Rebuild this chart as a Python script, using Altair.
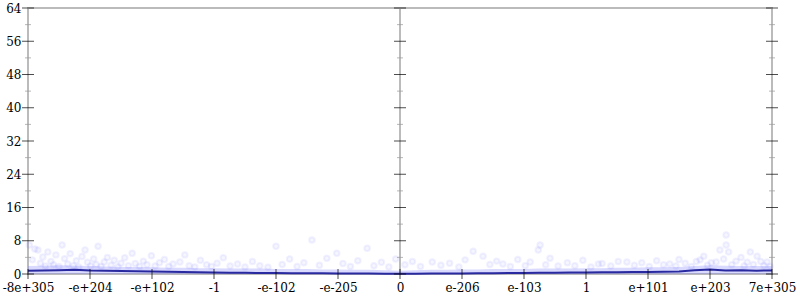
import altair as alt
import pandas as pd

# x positions are in "tick units": -6 .. 6, one unit per labelled tick
tick_pos = [-6, -5, -4, -3, -2, -1, 0, 1, 2, 3, 4, 5, 6]
tick_labels = ["-8e+305", "-e+204", "-e+102", "-1", "-e-102", "-e-205", "0",
               "e-206", "e-103", "1", "e+101", "e+203", "7e+305"]

y_major = [0, 8, 16, 24, 32, 40, 48, 56, 64]
y_minor = [4, 12, 20, 28, 36, 44, 52, 60]
axis_x = [-6, 0, 6]

line_x = [-6, -5.75, -5.5, -5.25, -5, -4.75, -4.5, -4.25, -4, -3.75, -3.5, -3.25,
          -3, -2.75, -2.5, -2.25, -2, -1.75, -1.5, -1.25, -1, -0.75, -0.5, -0.25,
          0, 0.25, 0.5, 0.75, 1, 1.25, 1.5, 1.75, 2, 2.25, 2.5, 2.75, 3, 3.25,
          3.5, 3.75, 4, 4.25, 4.5, 4.75, 5, 5.25, 5.5, 5.75, 6]
line_y = [0.8, 0.85, 0.9, 1.0, 0.85, 0.8, 0.7, 0.65, 0.6, 0.55, 0.5, 0.4,
          0.35, 0.3, 0.28, 0.25, 0.22, 0.2, 0.2, 0.18, 0.15, 0.12, 0.1, 0.08,
          0.05, 0.08, 0.1, 0.12, 0.15, 0.18, 0.2, 0.22, 0.25, 0.28, 0.3, 0.35,
          0.38, 0.4, 0.45, 0.5, 0.5, 0.55, 0.6, 0.9, 1.1, 0.85, 0.9, 0.8, 0.85]
band_hi = [1.9, 2.0, 2.1, 2.0, 1.9, 1.8, 1.7, 1.7, 1.6, 1.5, 1.5, 1.4,
           1.4, 1.3, 1.3, 1.3, 1.2, 1.2, 1.2, 1.1, 1.1, 1.0, 1.0, 0.9,
           0.8, 0.9, 1.0, 1.0, 1.1, 1.1, 1.2, 1.2, 1.2, 1.3, 1.3, 1.3,
           1.4, 1.4, 1.5, 1.5, 1.6, 1.6, 1.7, 1.9, 2.1, 2.0, 1.9, 1.9, 1.9]

points = [
    (-5.98, 7.0), (-5.93, 3.4), (-5.89, 6.0), (-5.84, 5.8), (-5.8, 2.6), (-5.76, 4.1),
    (-5.72, 1.9), (-5.68, 5.3), (-5.63, 3.0), (-5.59, 2.2), (-5.55, 4.6), (-5.5, 1.8),
    (-5.45, 7.0), (-5.41, 3.7), (-5.36, 2.4), (-5.32, 4.9), (-5.27, 2.0), (-5.22, 3.2),
    (-5.18, 1.7), (-5.13, 4.2), (-5.08, 5.8), (-5.04, 2.8), (-4.99, 1.9), (-4.94, 3.6),
    (-4.9, 2.3), (-4.87, 6.7), (-4.82, 1.8), (-4.77, 2.9), (-4.72, 4.0), (-4.66, 2.1),
    (-4.61, 3.3), (-4.55, 1.7), (-4.5, 2.6), (-4.44, 3.9), (-4.38, 2.0), (-4.32, 5.0),
    (-4.27, 2.5), (-4.2, 1.8), (-4.14, 3.1), (-4.08, 2.2), (-4.01, 4.4), (-3.95, 1.9),
    (-3.88, 2.7), (-3.8, 3.5), (-3.73, 1.8), (-3.66, 2.4), (-3.55, 2.9), (-3.47, 4.6),
    (-3.4, 2.0), (-3.31, 1.7), (-3.22, 3.3), (-3.12, 2.2), (-3.04, 1.8), (-2.95, 2.6),
    (-2.85, 3.9), (-2.74, 1.9), (-2.62, 2.4), (-2.5, 1.7), (-2.38, 3.0), (-2.26, 2.0),
    (-2.13, 1.6), (-2.0, 6.7), (-1.9, 2.3), (-1.78, 3.6), (-1.66, 1.8), (-1.55, 2.7),
    (-1.42, 8.2), (-1.3, 2.1), (-1.18, 3.8), (-1.02, 5.0), (-0.92, 2.5), (-0.8, 1.8),
    (-0.68, 3.2), (-0.53, 6.2), (-0.42, 2.0), (-0.3, 2.8), (-0.18, 1.7), (-0.07, 3.6),
    (0.08, 2.2), (0.2, 3.0), (0.33, 1.8), (0.52, 2.9), (0.66, 2.1), (0.8, 2.6),
    (0.95, 1.7), (1.05, 3.4), (1.18, 5.5), (1.34, 4.3), (1.45, 2.3), (1.56, 3.1),
    (1.66, 2.4), (1.78, 1.8), (1.9, 3.5), (2.02, 2.0), (2.1, 2.9), (2.23, 5.8),
    (2.26, 7.0), (2.35, 2.2), (2.42, 3.8), (2.55, 1.9), (2.7, 2.7), (2.82, 2.0),
    (2.95, 3.3), (3.08, 1.7), (3.2, 2.4), (3.26, 2.5), (3.4, 1.9), (3.52, 3.0),
    (3.66, 2.9), (3.78, 2.1), (3.9, 2.7), (4.02, 1.8), (4.14, 3.2), (4.25, 2.2),
    (4.35, 2.4), (4.45, 1.9), (4.5, 3.5), (4.6, 2.6), (4.7, 1.8), (4.78, 3.0),
    (4.84, 3.4), (4.9, 4.3), (4.96, 2.1), (5.02, 2.7), (5.1, 2.9), (5.16, 5.8),
    (5.22, 3.6), (5.26, 9.4), (5.26, 7.0), (5.3, 5.3), (5.35, 2.2), (5.42, 3.1),
    (5.5, 4.0), (5.55, 1.9), (5.6, 2.8), (5.65, 5.3), (5.7, 2.3), (5.76, 4.3),
    (5.82, 3.0), (5.87, 2.0), (5.92, 2.9), (5.97, 1.8),
]

FONT = "DejaVu Serif"

line_df = pd.DataFrame({"x": line_x, "y": line_y, "hi": band_hi})
pts_df = pd.DataFrame(points, columns=["x", "y"])
ymaj_df = pd.DataFrame([(ax, v) for ax in axis_x for v in y_major], columns=["x", "y"])
ymin_df = pd.DataFrame([(ax, v) for ax in axis_x for v in y_minor], columns=["x", "y"])
xt_df = pd.DataFrame({"x": tick_pos})

label_arr = "[" + ",".join("'%s'" % s for s in tick_labels) + "]"

xscale = alt.Scale(domain=[-6, 6], nice=False, zero=False)
yscale = alt.Scale(domain=[0, 64], nice=False)

xaxis = alt.Axis(values=tick_pos, labelExpr=label_arr + "[datum.value + 6]",
                 domain=False, ticks=False, grid=False, labelPadding=8,
                 title=None, labelFlush=False, labelOverlap=False)
yaxis = alt.Axis(values=y_major, domain=False, ticks=False, grid=False,
                 labelPadding=7, title=None, labelOverlap=False, labelFlush=False)

base_x = alt.X("x:Q", scale=xscale, axis=xaxis)
base_y = alt.Y("y:Q", scale=yscale, axis=yaxis)

mid = alt.Chart(xt_df).mark_rule(color="#bbbbbb", strokeWidth=2).encode(
    x=alt.XDatum(0, scale=xscale, axis=xaxis),
    y=alt.YDatum(0, scale=yscale, axis=yaxis),
    y2=alt.datum(64))

band = alt.Chart(line_df).mark_area(color="#6a6aff", opacity=0.25).encode(
    x=base_x, y=alt.Y("hi:Q", scale=yscale, axis=yaxis), y2=alt.datum(0))

pts = alt.Chart(pts_df).mark_point(filled=False, color="#4a4aff", fill="#4a4aff",
                                   fillOpacity=0.05, strokeOpacity=0.08,
                                   size=30, shape="circle").encode(
    x=base_x, y=base_y)

line = alt.Chart(line_df).mark_line(color="#2a2aa0", strokeWidth=2).encode(
    x=base_x, y=base_y)

ymaj = alt.Chart(ymaj_df).mark_tick(orient="horizontal", size=12, thickness=1,
                                    color="#000000").encode(x=base_x, y=base_y)
ymin = alt.Chart(ymin_df).mark_tick(orient="horizontal", size=6, thickness=1,
                                    color="#999999").encode(x=base_x, y=base_y)
xt = alt.Chart(xt_df).mark_tick(orient="vertical", size=10, thickness=1,
                                color="#000000").encode(
    x=base_x, y=alt.YDatum(0, scale=yscale, axis=yaxis))

chart = alt.layer(mid, band, pts, line, ymaj, ymin, xt).properties(
    width=744, height=266,
    autosize=alt.AutoSizeParams(type="none"),
    padding={"left": 28, "top": 8, "right": 28, "bottom": 26},
).configure_view(stroke="#bbbbbb", strokeWidth=2).configure_axis(
    labelFont=FONT, labelFontSize=12, labelColor="#000000"
)

chart.save("out.html", embed_options={"renderer": "svg", "actions": False})
